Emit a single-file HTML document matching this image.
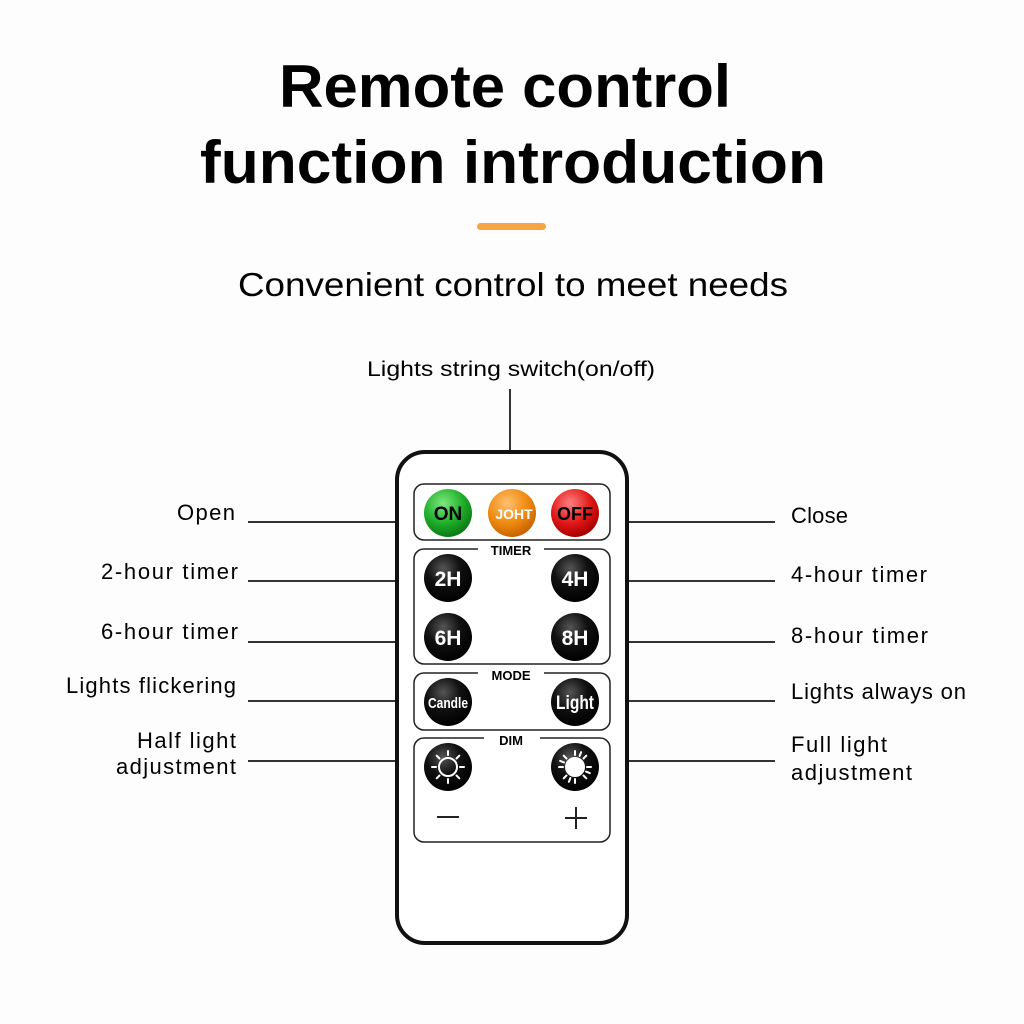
<!DOCTYPE html>
<html><head><meta charset="utf-8"><style>html,body{margin:0;padding:0;background:#fdfdfd}svg{display:block}</style></head>
<body>
<svg width="1024" height="1024" viewBox="0 0 1024 1024" xmlns="http://www.w3.org/2000/svg" font-family="Liberation Sans, DejaVu Sans, sans-serif">
<defs>
<radialGradient id="blk" cx="40%" cy="30%" r="70%"><stop offset="0" stop-color="#555"/><stop offset="0.5" stop-color="#111"/><stop offset="1" stop-color="#000"/></radialGradient>
<radialGradient id="grn" cx="40%" cy="30%" r="70%"><stop offset="0" stop-color="#7ee87e"/><stop offset="0.6" stop-color="#1fae2a"/><stop offset="1" stop-color="#0b7a14"/></radialGradient>
<radialGradient id="org" cx="40%" cy="30%" r="70%"><stop offset="0" stop-color="#ffc070"/><stop offset="0.6" stop-color="#f08a10"/><stop offset="1" stop-color="#c86400"/></radialGradient>
<radialGradient id="red" cx="40%" cy="30%" r="70%"><stop offset="0" stop-color="#ff8080"/><stop offset="0.6" stop-color="#e01818"/><stop offset="1" stop-color="#a80000"/></radialGradient>
</defs>
<rect width="1024" height="1024" fill="#fdfdfd"/>
<text x="505" y="107" font-size="60" font-weight="bold" text-anchor="middle" textLength="452" lengthAdjust="spacingAndGlyphs">Remote control</text>
<text x="513" y="183" font-size="60" font-weight="bold" text-anchor="middle" textLength="626" lengthAdjust="spacingAndGlyphs">function introduction</text>
<rect x="477" y="223" width="69" height="7" rx="3.5" fill="#f7a443"/>
<text x="513" y="296" font-size="33" text-anchor="middle" textLength="550" lengthAdjust="spacingAndGlyphs">Convenient control to meet needs</text>
<text x="511" y="376" font-size="21" text-anchor="middle" textLength="288" lengthAdjust="spacingAndGlyphs">Lights string switch(on/off)</text>
<line x1="510" y1="389" x2="510" y2="451" stroke="#333" stroke-width="2"/>
<g stroke="#333" stroke-width="2">
<line x1="248" y1="522" x2="396" y2="522"/><line x1="248" y1="581" x2="396" y2="581"/><line x1="248" y1="642" x2="396" y2="642"/><line x1="248" y1="701" x2="396" y2="701"/><line x1="248" y1="761" x2="396" y2="761"/>
<line x1="628" y1="522" x2="775" y2="522"/><line x1="628" y1="581" x2="775" y2="581"/><line x1="628" y1="642" x2="775" y2="642"/><line x1="628" y1="701" x2="775" y2="701"/><line x1="628" y1="761" x2="775" y2="761"/>
</g>
<g font-size="22" lengthAdjust="spacingAndGlyphs">
<text x="177" y="520" textLength="58">Open</text>
<text x="101" y="579" textLength="137">2-hour timer</text>
<text x="101" y="639" textLength="137">6-hour timer</text>
<text x="66" y="693" textLength="170">Lights flickering</text>
<text x="137" y="748" textLength="99">Half light</text>
<text x="116" y="774" textLength="120">adjustment</text>
<text x="791" y="523" textLength="57">Close</text>
<text x="791" y="582" textLength="136">4-hour timer</text>
<text x="791" y="643" textLength="137">8-hour timer</text>
<text x="791" y="699" textLength="175">Lights always on</text>
<text x="791" y="752" textLength="96">Full light</text>
<text x="791" y="780" textLength="121">adjustment</text>
</g>
<rect x="397" y="452" width="230" height="491" rx="28" fill="#fff" stroke="#111" stroke-width="4"/>
<g fill="none" stroke="#222" stroke-width="1.5">
<rect x="414" y="484" width="196" height="56" rx="10"/>
<path d="M478 549 H424 a10 10 0 0 0 -10 10 V654 a10 10 0 0 0 10 10 H600 a10 10 0 0 0 10 -10 V559 a10 10 0 0 0 -10 -10 H544"/>
<path d="M478 673 H424 a10 10 0 0 0 -10 10 V720 a10 10 0 0 0 10 10 H600 a10 10 0 0 0 10 -10 V683 a10 10 0 0 0 -10 -10 H544"/>
<path d="M484 738 H424 a10 10 0 0 0 -10 10 V832 a10 10 0 0 0 10 10 H600 a10 10 0 0 0 10 -10 V748 a10 10 0 0 0 -10 -10 H540"/>
</g>
<g font-size="13" font-weight="bold" text-anchor="middle">
<text x="511" y="555">TIMER</text><text x="511" y="680">MODE</text><text x="511" y="745">DIM</text>
</g>
<circle cx="448" cy="513" r="24" fill="url(#grn)"/>
<circle cx="512" cy="513" r="24" fill="url(#org)"/>
<circle cx="575" cy="513" r="24" fill="url(#red)"/>
<text x="448" y="520" font-size="19" font-weight="bold" text-anchor="middle">ON</text>
<text x="514" y="519" font-size="14" font-weight="bold" fill="#fff" text-anchor="middle">JOHT</text>
<text x="575" y="520" font-size="18" font-weight="bold" text-anchor="middle">OFF</text>
<g fill="url(#blk)">
<circle cx="448" cy="578" r="24"/><circle cx="575" cy="578" r="24"/>
<circle cx="448" cy="637" r="24"/><circle cx="575" cy="637" r="24"/>
<circle cx="448" cy="702" r="24"/><circle cx="575" cy="702" r="24"/>
<circle cx="448" cy="767" r="24"/><circle cx="575" cy="767" r="24"/>
</g>
<g fill="#fff" font-weight="bold" text-anchor="middle">
<text x="448" y="586" font-size="21">2H</text><text x="575" y="586" font-size="21">4H</text>
<text x="448" y="645" font-size="21">6H</text><text x="575" y="645" font-size="21">8H</text>
<text x="448" y="708" font-size="15" textLength="40" lengthAdjust="spacingAndGlyphs">Candle</text>
<text x="575" y="709" font-size="19" textLength="38" lengthAdjust="spacingAndGlyphs">Light</text>
</g>
<g stroke="#fff" stroke-width="2" stroke-linecap="round">
<circle cx="448" cy="767" r="9" fill="none"/>
<g transform="translate(448 767)">
<line x1="0" y1="-12" x2="0" y2="-16"/><line x1="0" y1="12" x2="0" y2="16"/><line x1="-12" y1="0" x2="-16" y2="0"/><line x1="12" y1="0" x2="16" y2="0"/>
<line x1="8.5" y1="8.5" x2="11.3" y2="11.3"/><line x1="-8.5" y1="8.5" x2="-11.3" y2="11.3"/><line x1="8.5" y1="-8.5" x2="11.3" y2="-11.3"/><line x1="-8.5" y1="-8.5" x2="-11.3" y2="-11.3"/>
</g>
<circle cx="575" cy="767" r="9" fill="#fff"/>
<g transform="translate(575 767)">
<line x1="0" y1="-12" x2="0" y2="-16"/><line x1="0" y1="12" x2="0" y2="16"/><line x1="-12" y1="0" x2="-16" y2="0"/><line x1="12" y1="0" x2="16" y2="0"/>
<line x1="8.5" y1="8.5" x2="11.3" y2="11.3"/><line x1="-8.5" y1="8.5" x2="-11.3" y2="11.3"/><line x1="8.5" y1="-8.5" x2="11.3" y2="-11.3"/><line x1="-8.5" y1="-8.5" x2="-11.3" y2="-11.3"/>
<line x1="4.6" y1="-11" x2="6.1" y2="-14.8"/><line x1="-4.6" y1="11" x2="-6.1" y2="14.8"/><line x1="11" y1="4.6" x2="14.8" y2="6.1"/><line x1="-11" y1="-4.6" x2="-14.8" y2="-6.1"/>
</g>
</g>
<g stroke="#222" stroke-width="2">
<line x1="437" y1="817" x2="459" y2="817"/>
<line x1="565" y1="818" x2="587" y2="818"/><line x1="576" y1="807" x2="576" y2="829"/>
</g>
</svg>
</body></html>
